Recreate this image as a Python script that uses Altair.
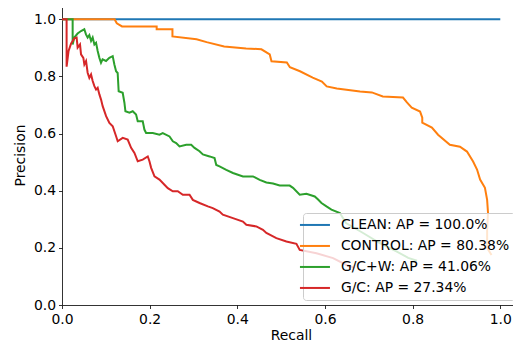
import altair as alt
import pandas as pd

names = ["CLEAN: AP = 100.0%", "CONTROL: AP = 80.38%", "G/C+W: AP = 41.06%", "G/C: AP = 27.34%"]
colors = ["#1f77b4", "#ff7f0e", "#2ca02c", "#d62728"]

clean_recall = [0.0, 1.0]
clean_precision = [1.0, 1.0]

control_recall = [0.0, 0.12, 0.125, 0.137, 0.216, 0.216, 0.252, 0.252, 0.307, 0.33, 0.37, 0.42,
                  0.455, 0.474, 0.478, 0.513, 0.52, 0.543, 0.572, 0.593, 0.604, 0.627, 0.68,
                  0.707, 0.732, 0.778, 0.787, 0.798, 0.817, 0.822, 0.822, 0.844, 0.858, 0.885,
                  0.908, 0.924, 0.938, 0.947, 0.954, 0.965, 0.97, 0.972, 0.97, 0.97, 0.98]
control_precision = [1.0, 1.0, 0.986, 0.975, 0.975, 0.965, 0.965, 0.94, 0.93, 0.92, 0.905, 0.898,
                     0.895, 0.877, 0.853, 0.849, 0.832, 0.818, 0.796, 0.782, 0.765, 0.758, 0.747,
                     0.744, 0.73, 0.726, 0.709, 0.691, 0.677, 0.656, 0.638, 0.621, 0.596, 0.561,
                     0.554, 0.537, 0.502, 0.474, 0.439, 0.41, 0.368, 0.323, 0.26, 0.2, 0.175]

gcw_recall = [0.0, 0.0243, 0.0243, 0.0281, 0.0356, 0.0434, 0.0509, 0.0547, 0.0585, 0.0624, 0.0663,
              0.07, 0.0739, 0.0777, 0.0814, 0.0853, 0.089, 0.0926, 0.1005, 0.108, 0.1157, 0.1195,
              0.1234, 0.127, 0.1293, 0.1385, 0.1424, 0.1447, 0.1538, 0.1614, 0.169, 0.1728,
              0.1842, 0.188, 0.1919, 0.2071, 0.2224, 0.2299, 0.2453, 0.2529, 0.2605, 0.2681,
              0.2834, 0.2948, 0.3024, 0.3138, 0.3214, 0.3367, 0.3481, 0.352, 0.3595, 0.3748,
              0.39, 0.4129, 0.4357, 0.4511, 0.4663, 0.4815, 0.4967, 0.5195, 0.5271, 0.5424,
              0.5577, 0.5767, 0.5843, 0.592, 0.6034, 0.6148, 0.634, 0.648, 0.687, 0.725, 0.763,
              0.79, 0.81]
gcw_precision = [1.0, 1.0, 0.912, 0.936, 0.950, 0.959, 0.965, 0.947, 0.936, 0.945, 0.924,
                 0.936, 0.912, 0.918, 0.889, 0.865, 0.848, 0.860, 0.854, 0.865, 0.871, 0.842,
                 0.818, 0.812, 0.748, 0.743, 0.708, 0.678, 0.673, 0.678, 0.667, 0.643,
                 0.643, 0.614, 0.602, 0.602, 0.596, 0.602, 0.590, 0.573, 0.567, 0.555,
                 0.561, 0.561, 0.550, 0.538, 0.527, 0.520, 0.514, 0.490, 0.485, 0.473,
                 0.462, 0.450, 0.450, 0.438, 0.429, 0.425, 0.418, 0.418, 0.410, 0.386,
                 0.389, 0.380, 0.369, 0.357, 0.345, 0.334, 0.322, 0.287, 0.252, 0.217, 0.188,
                 0.165, 0.155]

gc_recall = [0.0, 0.0105, 0.0105, 0.015, 0.0206, 0.0281, 0.0334, 0.0357, 0.0411, 0.0434, 0.0487,
             0.051, 0.0549, 0.0585, 0.0624, 0.0663, 0.07, 0.0739, 0.0777, 0.0814, 0.0853, 0.0891,
             0.0928, 0.1006, 0.1081, 0.1157, 0.1234, 0.1271, 0.1385, 0.1499, 0.1577, 0.1653,
             0.1728, 0.1842, 0.1957, 0.1995, 0.2034, 0.211, 0.2224, 0.2338, 0.2414, 0.2528,
             0.2642, 0.2757, 0.291, 0.2985, 0.3138, 0.3328, 0.344, 0.3595, 0.367, 0.39, 0.4128,
             0.4206, 0.4434, 0.4585, 0.4663, 0.4891, 0.512, 0.5349, 0.5424, 0.5806, 0.6185,
             0.649, 0.668]
gc_precision = [1.0, 1.0, 0.834, 0.889, 0.915, 0.933, 0.936, 0.901, 0.912, 0.877, 0.865,
                0.842, 0.854, 0.813, 0.795, 0.807, 0.784, 0.766, 0.754, 0.760, 0.737, 0.719,
                0.696, 0.661, 0.6375, 0.6256, 0.5905, 0.573, 0.585, 0.579, 0.550, 0.532,
                0.503, 0.509, 0.520, 0.503, 0.480, 0.450, 0.439, 0.421, 0.409, 0.398,
                0.398, 0.386, 0.386, 0.368, 0.357, 0.345, 0.339, 0.327, 0.316, 0.304, 0.292,
                0.281, 0.275, 0.263, 0.252, 0.234, 0.222, 0.214, 0.193, 0.181, 0.164,
                0.140, 0.13]

tick_values = [0.0, 0.2, 0.4, 0.6, 0.8, 1.0]

rows = []
for name, rec, prec in zip(names,
                           [clean_recall, control_recall, gcw_recall, gc_recall],
                           [clean_precision, control_precision, gcw_precision, gc_precision]):
    for i, (r, p) in enumerate(zip(rec, prec)):
        rows.append({"series": name, "recall": r, "precision": p, "idx": i})
df = pd.DataFrame(rows)

FONT = "DejaVu Sans"
FS = 13.9

axis_common = dict(values=tick_values, format=".1f", grid=False,
                   labelFont=FONT, labelFontSize=FS, labelColor="#000000",
                   titleFont=FONT, titleFontSize=FS, titleFontWeight="normal",
                   titleColor="#000000", tickSize=3.5, tickWidth=0.8, tickColor="#000000",
                   domainColor="#000000", domainWidth=0.8, labelFlush=False)

lines = alt.Chart(df).mark_line(strokeWidth=2, clip=True).encode(
    x=alt.X("recall:Q", scale=alt.Scale(domain=[0, 1.045], nice=False, zero=False),
            axis=alt.Axis(title="Recall", labelPadding=3.5, titlePadding=3, **axis_common)),
    y=alt.Y("precision:Q", scale=alt.Scale(domain=[0, 1.05], nice=False, zero=False),
            axis=alt.Axis(title="Precision", labelPadding=3, titlePadding=6, **axis_common)),
    color=alt.Color("series:N", scale=alt.Scale(domain=names, range=colors),
                    legend=alt.Legend(title=None, orient="none", legendX=241, legendY=208,
                                      fillColor="rgba(255,255,255,0.8)", strokeColor="#cccccc",
                                      cornerRadius=3, padding=5, labelFont=FONT,
                                      labelFontSize=FS, labelColor="#000000", labelLimit=400,
                                      symbolType="M-3,0H3", symbolStrokeWidth=2,
                                      symbolSize=100, rowPadding=6, labelOffset=19)),
    order="idx:Q",
)

top_spine = alt.Chart(pd.DataFrame({"a": [0]})).mark_rule(color="#000000", strokeWidth=0.8).encode(
    y=alt.value(0), x=alt.value(0), x2=alt.value(458)
)

chart = alt.layer(lines, top_spine).properties(
    width=458, height=300,
    autosize=alt.AutoSizeParams(type="none"),
    padding={"left": 54, "top": -3, "right": -7, "bottom": 36},
).configure_view(stroke=None)

chart.save("out.html", embed_options={"renderer": "svg", "actions": False})
